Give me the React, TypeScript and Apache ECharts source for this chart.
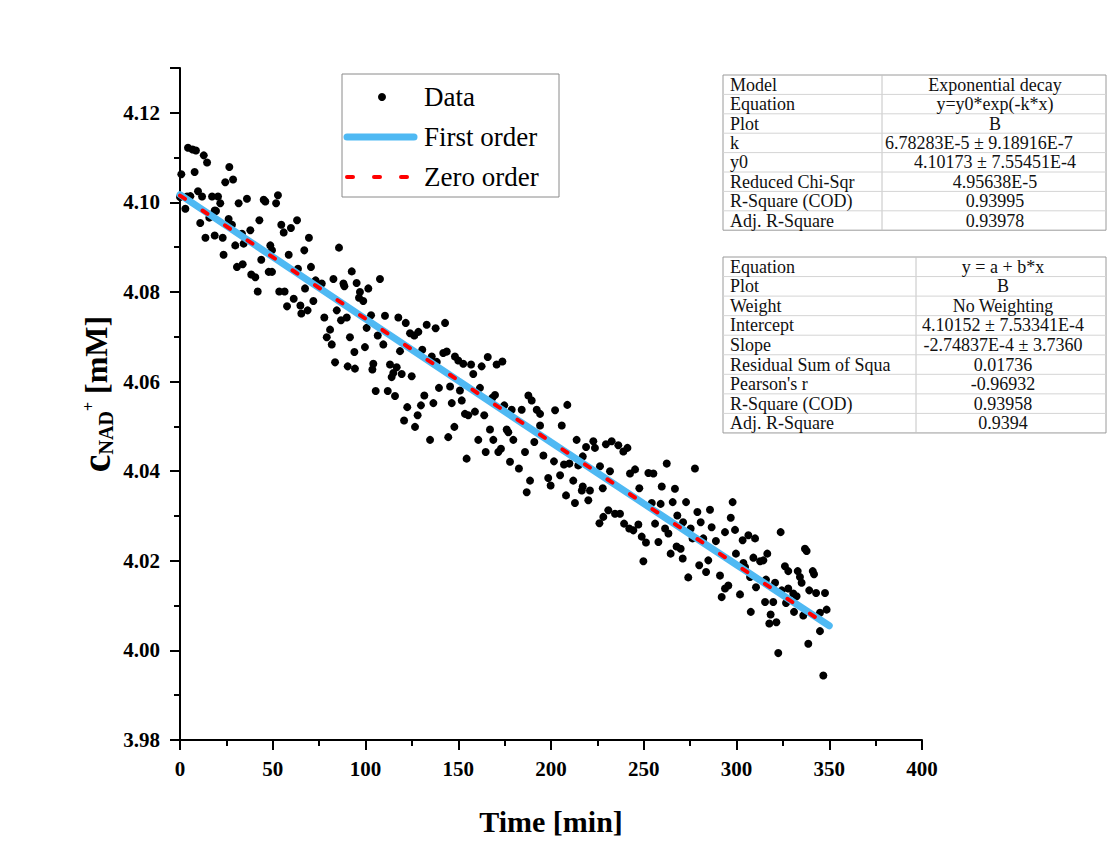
import React, { useEffect, useRef } from "react";
import * as echarts from "echarts";

// ---- Measured data: [time (min), c_NAD+ (mM)] ----
const dataSeg1: [number, number][] = [
  [0, 4.1012], [0.7, 4.1063], [2.9, 4.0986], [3.8, 4.1013], [4.3, 4.1122], [5.6, 4.1014], [6.8, 4.1118],
  [7.9, 4.1068], [8.6, 4.1116], [9.7, 4.1025], [10.9, 4.0954], [11.9, 4.1013], [12.8, 4.1105], [13.7, 4.0921],
  [14.6, 4.1089], [15.8, 4.0966], [17.3, 4.1013], [18.7, 4.0982], [18.7, 4.0926], [19.4, 4.0981], [20.5, 4.1013],
  [21.7, 4.0998], [23, 4.0921], [23.5, 4.0883], [24.4, 4.1045], [26.2, 4.0963], [26.6, 4.1079], [28, 4.095],
  [28.6, 4.1051], [29.8, 4.0904], [30.7, 4.0856], [31.6, 4.0998], [33.4, 4.093], [33.8, 4.0862], [34.3, 4.0908],
  [36.1, 4.1008], [37.9, 4.0938], [38.4, 4.0839], [40.6, 4.0833], [41.9, 4.0801], [42.8, 4.096], [43.8, 4.0872],
  [45.1, 4.1006], [46, 4.1002], [47.8, 4.0845], [48.7, 4.0904], [49.6, 4.0893], [49.6, 4.0845], [51.8, 4.0998],
  [52.8, 4.1016], [53.5, 4.0801], [54.6, 4.095], [55.9, 4.0933], [56.4, 4.0801], [57.7, 4.0768], [58.6, 4.0883],
  [59.8, 4.0943], [61.3, 4.0785], [63.1, 4.096], [63.6, 4.0852], [64.9, 4.077], [65.4, 4.0752],
];
const dataSeg2: [number, number][] = [
  [67, 4.0893], [67.4, 4.0808], [68.8, 4.0759], [69.5, 4.0921], [70.6, 4.0856], [71.9, 4.078], [73.1, 4.0826],
  [76.4, 4.0819], [77.8, 4.0743], [79.1, 4.0699], [80.9, 4.0716], [81.8, 4.0683], [82.7, 4.0829], [83.6, 4.0643],
  [84.5, 4.0759], [85.7, 4.0899], [86.8, 4.0737], [88.1, 4.0819], [88.6, 4.0813], [89.9, 4.0743], [90.4, 4.0634],
  [91.6, 4.0699], [92.6, 4.0846], [94, 4.0666], [94.3, 4.0629], [95.2, 4.082], [96.5, 4.0787], [97, 4.08],
  [98.8, 4.078], [99.7, 4.0677], [100.6, 4.072], [101.5, 4.0808], [103, 4.0748], [103.7, 4.0627], [104.2, 4.064],
  [105.5, 4.0579], [106.6, 4.0703], [107.8, 4.0829], [109.6, 4.0683], [110.5, 4.0747], [112, 4.0579], [113.2, 4.0638],
  [114.1, 4.061], [115, 4.0619], [115.9, 4.0568], [116.8, 4.0632], [117.7, 4.0743], [118.6, 4.0668], [119.5, 4.0617],
  [120.8, 4.0513], [121.7, 4.0731], [122.5, 4.0543], [124, 4.0708], [124.9, 4.0612], [126.3, 4.0703], [128.5, 4.0711],
];
const dataSeg3: [number, number][] = [
  [126.7, 4.0499], [128.1, 4.0525], [129.9, 4.0547], [130.6, 4.0671], [131.7, 4.0569], [133, 4.0727], [134.8, 4.047],
  [135.7, 4.0656], [136.6, 4.0552], [137.8, 4.0719], [138.4, 4.0644], [139.6, 4.0586], [141.9, 4.0664], [142.9, 4.0731],
  [143.8, 4.0667], [144.6, 4.0476], [145.6, 4.0589], [146.5, 4.0552], [147.9, 4.0499], [148.2, 4.0656], [150, 4.0647],
  [150.9, 4.058], [151.9, 4.0558], [152.7, 4.064], [153.6, 4.0528], [154.5, 4.0428], [155.4, 4.0525], [156.9, 4.0638],
  [158.1, 4.0617], [159, 4.0533], [160.8, 4.047], [161.7, 4.0586], [162.6, 4.0634], [164, 4.0525], [164.8, 4.0443],
  [165.9, 4.0655], [167.1, 4.0493], [168.4, 4.0564], [168.9, 4.047], [169.8, 4.057], [170.7, 4.0638], [171.6, 4.0443],
  [173, 4.045], [173.8, 4.0645], [174.8, 4.0547], [176.1, 4.0493], [177, 4.0487], [177.9, 4.0421], [178.8, 4.0537],
  [179.7, 4.047], [182.7, 4.0406], [184.2, 4.0537], [186, 4.0443], [186.9, 4.0353], [187.8, 4.0569], [188.7, 4.0379],
  [189.6, 4.0558], [191, 4.0465], [192.3, 4.0537], [194.1, 4.0528], [194.1, 4.0502], [195.9, 4.0435],
];
const dataSeg4: [number, number][] = [
  [198.5, 4.0385], [199.8, 4.0368], [201.6, 4.0422], [202.2, 4.0536], [204.9, 4.0391], [205.8, 4.0502], [207, 4.0415],
  [208.1, 4.0346], [208.8, 4.0548], [209.9, 4.0417], [212, 4.0379], [212.9, 4.0329], [213.8, 4.047], [214.7, 4.0413],
  [216.6, 4.0357], [217.1, 4.0433], [217.1, 4.0366], [218.9, 4.0454], [220.1, 4.0335], [221, 4.0357], [222.8, 4.0467],
  [223.7, 4.0452], [226.1, 4.0284], [226.4, 4.0411], [227.9, 4.0362], [228.2, 4.0298], [229.6, 4.046], [230.9, 4.0313],
  [231.8, 4.04], [232.7, 4.0467], [234.5, 4.0305], [236.3, 4.0458], [237.2, 4.0305], [239, 4.0444], [239.4, 4.0283],
  [241.2, 4.0452], [242.2, 4.0272], [242.6, 4.0395], [244.4, 4.0268], [245.3, 4.0404], [247.1, 4.0281], [247.6, 4.0362],
  [248.9, 4.0254], [249.8, 4.0199], [251.2, 4.0241], [252.5, 4.0396], [254.3, 4.0329], [255.2, 4.0395], [256.1, 4.0283],
  [257.9, 4.0242], [259.1, 4.0327], [259.7, 4.0366], [261.5, 4.0272], [262.4, 4.0417], [263.3, 4.0261],
];
const dataSeg5: [number, number][] = [
  [264.5, 4.0216], [265.6, 4.0331], [266.8, 4.0361], [267.7, 4.0232], [268.1, 4.0301], [269.9, 4.0227], [271, 4.0205],
  [271.2, 4.0286], [272.8, 4.0331], [274, 4.0163], [275.3, 4.0272], [276.3, 4.025], [277.6, 4.0406], [278.9, 4.0309],
  [279.9, 4.019], [280.7, 4.0286], [282.1, 4.025], [283.6, 4.0175], [284.8, 4.0201], [285.7, 4.0314], [286.6, 4.0275],
  [288.9, 4.0244], [291.1, 4.0167], [292, 4.0119], [293.8, 4.0264], [293.8, 4.0138], [295.6, 4.0145], [296.9, 4.0296],
  [297.9, 4.0331], [299.2, 4.0269], [299.7, 4.0216], [301.9, 4.0125], [303.3, 4.0246], [303.7, 4.0195], [304.6, 4.0186],
  [306.4, 4.0257], [307.3, 4.0164], [307.7, 4.0086], [309.1, 4.0207], [310, 4.025], [310.5, 4.0141], [312.7, 4.0199],
  [314.5, 4.0201], [315.4, 4.0108], [315.9, 4.0158], [316.6, 4.0216], [317.7, 4.006], [318.4, 4.008], [319.8, 4.0108],
  [320.8, 4.0151], [321.5, 4.0063], [322.5, 3.9994], [323.8, 4.0264], [324.4, 4.0134], [326.1, 4.0188], [326.7, 4.0106],
  [327.9, 4.0177], [327.9, 4.0138], [330.6, 4.0127], [331, 4.0086], [332.4, 4.0121], [333, 4.0177], [334.2, 4.0164],
  [335.1, 4.0151], [336, 4.0078], [336.9, 4.0227], [337.8, 4.0222], [338.7, 4.0015], [339.2, 4.0134], [341.1, 4.0177],
  [341.8, 4.017], [342.9, 4.0128], [345, 4.0084], [345, 4.0043], [346.8, 3.9944], [347.7, 4.0128], [348.6, 4.0091],
];
const measured = [...dataSeg1, ...dataSeg2, ...dataSeg3, ...dataSeg4, ...dataSeg5];

// ---- Fit parameters (from the fit tables) ----
const expK = 6.78283e-5;
const expY0 = 4.10173;
const linA = 4.10152;
const linB = -2.74837e-4;
const fitTimes = [0, 50, 100, 150, 200, 250, 300, 350];

// ---- Axis ----
const xMin = 0, xMax = 400, xStep = 50;
const yMin = 3.98, yMax = 4.13, yStep = 0.02;

// ---- Legend ----
const legendNames = ["Data", "First order", "Zero order"];

// ---- Tables ----
const table1Rows: [string, string][] = [
  ["Model", "Exponential decay"],
  ["Equation", "y=y0*exp(-k*x)"],
  ["Plot", "B"],
  ["k", "6.78283E-5 \u00b1 9.18916E-7"],
  ["y0", "4.10173 \u00b1 7.55451E-4"],
  ["Reduced Chi-Sqr", "4.95638E-5"],
  ["R-Square (COD)", "0.93995"],
  ["Adj. R-Square", "0.93978"],
];
const table2Rows: [string, string][] = [
  ["Equation", "y = a + b*x"],
  ["Plot", "B"],
  ["Weight", "No Weighting"],
  ["Intercept", "4.10152 \u00b1 7.53341E-4"],
  ["Slope", "-2.74837E-4 \u00b1 3.7360"],
  ["Residual Sum of Squa", "0.01736"],
  ["Pearson's r", "-0.96932"],
  ["R-Square (COD)", "0.93958"],
  ["Adj. R-Square", "0.9394"],
];

const SERIF = "Liberation Serif";
const BLUE = "#4fb9f3";
const RED = "#ff0000";

function buildTable(rows: [string, string][], x0: number, xDiv: number, x1: number, y0: number, rowH: number, rightCenter: number) {
  const els: any[] = [];
  const h = rows.length * rowH;
  els.push({ type: "rect", shape: { x: x0, y: y0, width: x1 - x0, height: h }, style: { fill: "#fff", stroke: "#9a9a9a", lineWidth: 1 }, z: 10 });
  els.push({ type: "line", shape: { x1: xDiv, y1: y0, x2: xDiv, y2: y0 + h }, style: { stroke: "#c4c4c4", lineWidth: 1 }, z: 11 });
  rows.forEach((r, i) => {
    const cy = y0 + rowH * (i + 0.5);
    if (i > 0) {
      els.push({ type: "line", shape: { x1: x0, y1: y0 + rowH * i, x2: x1, y2: y0 + rowH * i }, style: { stroke: "#d4d4d4", lineWidth: 1 }, z: 11 });
    }
    els.push({ type: "text", x: x0 + 7, y: cy, style: { text: r[0], font: `18px ${SERIF}`, fill: "#111", align: "left", verticalAlign: "middle" }, z: 12 });
    const long = r[1].length > 20;
    els.push({
      type: "text", x: long ? xDiv + 3 : rightCenter, y: cy,
      style: { text: r[1], font: `18px ${SERIF}`, fill: "#111", align: long ? "left" : "center", verticalAlign: "middle" }, z: 12,
    });
  });
  return els;
}

function buildLegend() {
  const x0 = 342, y0 = 74, w = 217, h = 123;
  const rowY = [97, 137, 177];
  const textX = 424;
  return [
    { type: "rect", shape: { x: x0, y: y0, width: w, height: h }, style: { fill: "#fff", stroke: "#8a8a8a", lineWidth: 1 }, z: 10 },
    { type: "circle", shape: { cx: 382, cy: rowY[0], r: 4 }, style: { fill: "#000" }, z: 11 },
    { type: "line", shape: { x1: 347, y1: rowY[1], x2: 414, y2: rowY[1] }, style: { stroke: BLUE, lineWidth: 7, lineCap: "round" }, z: 11 },
    { type: "line", shape: { x1: 347, y1: rowY[2], x2: 416, y2: rowY[2] }, style: { stroke: RED, lineWidth: 4, lineCap: "round", lineDash: [6, 21] }, z: 11 },
    ...legendNames.map((n, i) => ({
      type: "text", x: textX, y: rowY[i],
      style: { text: n, font: `27px ${SERIF}`, fill: "#000", align: "left", verticalAlign: "middle" }, z: 11,
    })),
  ];
}

export default function App() {
  const ref = useRef<HTMLDivElement>(null);
  useEffect(() => {
    const chart = echarts.init(ref.current!, null, { renderer: "svg" });
    const firstOrder = fitTimes.map((t) => [t, expY0 * Math.exp(-expK * t)]);
    const zeroOrder = [fitTimes[0], fitTimes[fitTimes.length - 1]].map((t) => [t, linA + linB * t]);

    const graphic: any[] = [
      ...buildTable(table1Rows, 723, 882, 1106, 75, 19.4, 995),
      ...buildTable(table2Rows, 723, 916, 1106, 257, 19.55, 1003),
      ...buildLegend(),
      {
        type: "text", x: 96, y: 394, rotation: Math.PI / 2,
        style: {
          text: "{c|c}{sub|NAD}{sup|+}{u| [mM]}",
          align: "center", verticalAlign: "middle",
          rich: {
            c: { fontSize: 40, fontWeight: "bold", fontFamily: SERIF, fill: "#000", lineHeight: 44, verticalAlign: "middle" },
            sub: { fontSize: 20, fontWeight: "bold", fontFamily: SERIF, fill: "#000", lineHeight: 20, verticalAlign: "bottom", padding: [0, 0, 2, 0] },
            sup: { fontSize: 16, fontWeight: "bold", fontFamily: SERIF, fill: "#000", lineHeight: 16, verticalAlign: "top", padding: [6, 0, 0, 0] },
            u: { fontSize: 32, fontWeight: "bold", fontFamily: SERIF, fill: "#000", lineHeight: 44, verticalAlign: "middle" },
          },
        },
      },
    ];

    chart.setOption({
      animation: false,
      backgroundColor: "#ffffff",
      grid: { left: 180, right: 195, top: 68, bottom: 118, containLabel: false },
      xAxis: {
        type: "value", min: xMin, max: xMax, interval: xStep,
        name: "Time [min]", nameLocation: "middle", nameGap: 66,
        nameTextStyle: { fontFamily: SERIF, fontSize: 30, fontWeight: "bold", color: "#000" },
        axisLine: { show: true, lineStyle: { color: "#000", width: 2 } },
        axisTick: { show: true, inside: false, length: 10, lineStyle: { color: "#000", width: 2 } },
        minorTick: { show: true, splitNumber: 2, length: 6, lineStyle: { color: "#000", width: 2 } },
        axisLabel: { margin: 18, fontFamily: SERIF, fontSize: 21, fontWeight: "bold", color: "#000" },
        splitLine: { show: false },
      },
      yAxis: {
        type: "value", min: yMin, max: yMax, interval: yStep,
        axisLine: { show: true, lineStyle: { color: "#000", width: 2 } },
        axisTick: { show: true, inside: false, length: 10, lineStyle: { color: "#000", width: 2 } },
        minorTick: { show: true, splitNumber: 2, length: 6, lineStyle: { color: "#000", width: 2 } },
        axisLabel: {
          margin: 20, fontFamily: SERIF, fontSize: 21, fontWeight: "bold", color: "#000",
          formatter: (v: number) => (Math.abs(v - yMax) < 1e-6 ? "" : v.toFixed(2)),
        },
        splitLine: { show: false },
      },
      series: [
        {
          name: legendNames[0], type: "scatter", data: measured, symbol: "circle", symbolSize: 8,
          itemStyle: { color: "#000", opacity: 1 }, z: 2,
        },
        {
          name: legendNames[1], type: "line", data: firstOrder, symbol: "none", smooth: false,
          lineStyle: { color: BLUE, width: 7, cap: "round" }, itemStyle: { color: BLUE }, z: 3,
        },
        {
          name: legendNames[2], type: "line", data: zeroOrder, symbol: "none",
          lineStyle: { color: RED, width: 4, type: [6, 21], cap: "round" }, itemStyle: { color: RED }, z: 4,
        },
      ],
      graphic,
    });
    return () => chart.dispose();
  }, []);
  return (
    <div
      ref={ref}
      style={{ position: "fixed", left: 0, top: 0, width: 1117, height: 858, background: "#fff" }}
    />
  );
}
